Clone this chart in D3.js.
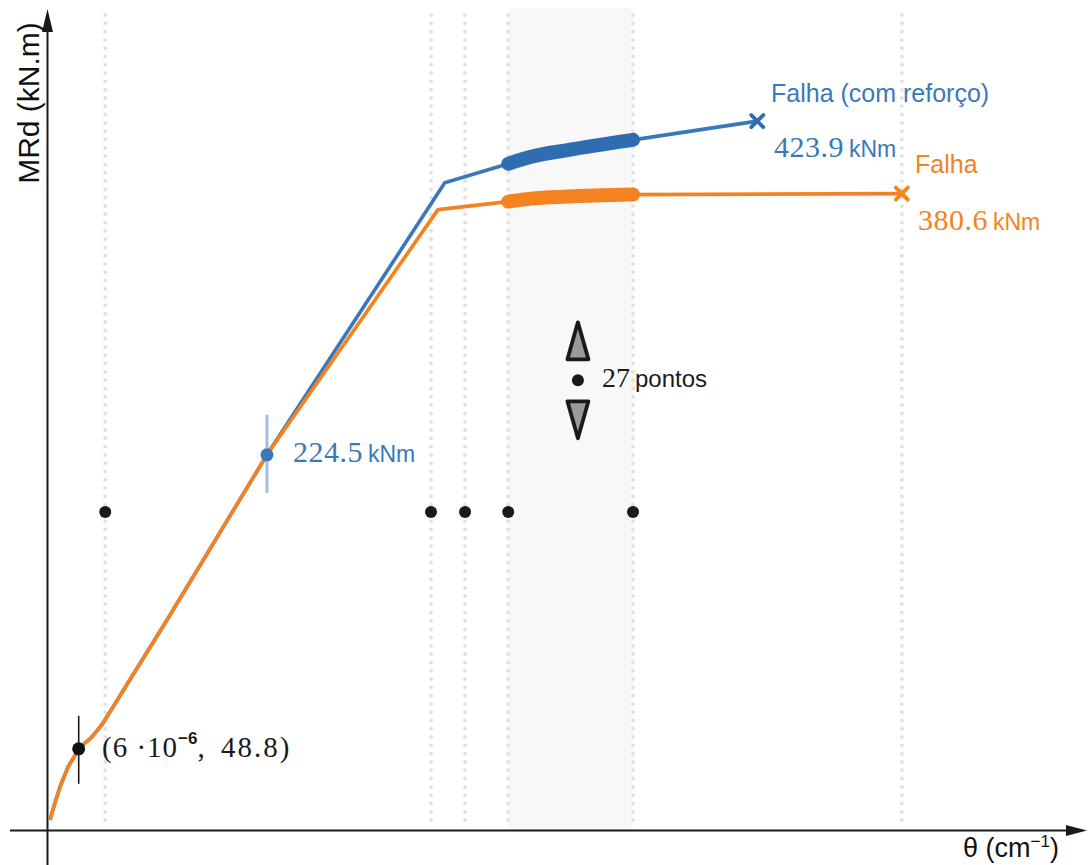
<!DOCTYPE html>
<html>
<head>
<meta charset="utf-8">
<script src="https://cdn.jsdelivr.net/npm/d3@7"></script>
<style>
  html, body { margin: 0; padding: 0; background: #fff; }
  svg { display: block; }
  .serif { font-family: 'Liberation Serif', 'Times New Roman', serif; }
  .sans { font-family: 'Liberation Sans', Arial, sans-serif; }
</style>
</head>
<body>
<svg id="chart" width="1088" height="865"></svg>
<script>
// ---------- data (θ in arbitrary units, MRd in kN.m) ----------
const curveCommon = [
  [0.48, 6.3], [1.25, 14.6], [2.4, 26.0], [3.94, 37.9], [5.1, 43.9], [6, 48.8],
  [7.0, 51.7], [8.17, 54.7], [9.52, 59.5], [10.67, 64.2], [12.0, 70.8],
  [22.98, 125.8], [42.2, 224.5]
];
const orangeTail = [[75.1, 371.0], [88.6, 375.8], [112.6, 380.0], [164.3, 380.6]];
const blueTail   = [[76.4, 387.1], [88.6, 398.4], [112.6, 412.7], [136.5, 423.9]];
const orangeThick = [[88.6, 375.8], [93, 377.6], [100, 378.8], [112.6, 380.0]];
const blueThick   = [[88.6, 398.4], [93, 402.6], [100, 406.6], [112.6, 412.7]];
const guideX = [11.1, 73.75, 80.3, 88.6, 112.6, 164.3];
const rowDotsX = [11.1, 73.75, 80.3, 88.6, 112.6];
const rowDotsY = 190.3;
const band = [88.6, 112.6];
const firstPoint = [6, 48.8];
const yieldPoint = [42.2, 224.5];
const failBlue = [136.5, 423.9];
const failOrange = [164.3, 380.6];
const legendPoint = [102, 269];
const labelsMRd = { yield: "224.5", blue: "423.9", orange: "380.6" };

const blueC = "#3a78bc", blueDark = "#2f6db2", orangeC = "#f58220", blueLight = "#9ebfe2";

// ---------- scales ----------
const svg = d3.select("#chart");
const x = d3.scaleLinear().domain([0, 200]).range([47.5, 1087.5]);
const y = d3.scaleLinear().domain([0, 490]).range([830.5, 10.5]);

// band
svg.append("rect")
  .attr("x", x(band[0])).attr("y", 8)
  .attr("width", x(band[1]) - x(band[0])).attr("height", y(0) - 8)
  .attr("fill", "#f8f8f8");

// dotted guides
svg.selectAll(".guide").data(guideX).enter().append("line")
  .attr("x1", d => x(d)).attr("x2", d => x(d))
  .attr("y1", 15).attr("y2", 828)
  .attr("stroke", "#e2e2e2").attr("stroke-width", 4)
  .attr("stroke-linecap", "round").attr("stroke-dasharray", "0 8.3");

// axes
const axisColor = "#1a1a1a";
svg.append("line").attr("x1", 10).attr("x2", 1070).attr("y1", y(0)).attr("y2", y(0))
  .attr("stroke", axisColor).attr("stroke-width", 2);
svg.append("path").attr("d", `M1087,${y(0)} L1066,${y(0) - 5.5} L1066,${y(0) + 5.5} Z`).attr("fill", axisColor);
svg.append("line").attr("x1", x(0)).attr("x2", x(0)).attr("y1", 865).attr("y2", 28)
  .attr("stroke", axisColor).attr("stroke-width", 2);
svg.append("path").attr("d", `M${x(0)},9 L${x(0) - 5.5},32 L${x(0) + 5.5},32 Z`).attr("fill", axisColor);

// axis labels
svg.append("text").attr("class", "sans").attr("transform", `translate(39,103) rotate(-90)`)
  .attr("text-anchor", "middle").attr("font-size", 30).attr("fill", "#111").text("MRd (kN.m)");
const xl = svg.append("text").attr("class", "sans").attr("x", 963).attr("y", 857)
  .attr("font-size", 27).attr("fill", "#111");
xl.append("tspan").text("θ (cm");
xl.append("tspan").attr("font-size", 17).attr("dy", -10).text("−1");
xl.append("tspan").attr("dy", 10).text(")");

// lines
const line = d3.line().x(d => x(d[0])).y(d => y(d[1]));
svg.append("path").datum(curveCommon.concat(blueTail)).attr("d", line)
  .attr("fill", "none").attr("stroke", blueC).attr("stroke-width", 3.6).attr("stroke-linejoin", "round");
svg.append("path").datum(curveCommon.concat(orangeTail)).attr("d", line)
  .attr("fill", "none").attr("stroke", orangeC).attr("stroke-width", 3.6).attr("stroke-linejoin", "round");

const smooth = d3.line().x(d => x(d[0])).y(d => y(d[1])).curve(d3.curveMonotoneX);
svg.append("path").datum(blueThick).attr("d", smooth)
  .attr("fill", "none").attr("stroke", blueDark).attr("stroke-width", 14).attr("stroke-linecap", "round");
svg.append("path").datum(orangeThick).attr("d", smooth)
  .attr("fill", "none").attr("stroke", orangeC).attr("stroke-width", 14).attr("stroke-linecap", "round");

// row dots
svg.selectAll(".rowdot").data(rowDotsX).enter().append("circle")
  .attr("cx", d => x(d)).attr("cy", y(rowDotsY)).attr("r", 6).attr("fill", "#1a1a1a");

// first point
svg.append("line").attr("x1", x(firstPoint[0])).attr("x2", x(firstPoint[0]))
  .attr("y1", y(firstPoint[1]) - 33).attr("y2", y(firstPoint[1]) + 35)
  .attr("stroke", "#1a1a1a").attr("stroke-width", 1.6);
svg.append("circle").attr("cx", x(firstPoint[0])).attr("cy", y(firstPoint[1])).attr("r", 6.5).attr("fill", "#111");
const fp = svg.append("text").attr("class", "serif").attr("x", 102).attr("y", 757)
  .attr("font-size", 29).attr("fill", "#1a1a1a");
fp.append("tspan").attr("letter-spacing", 1).text("(6 ·10");
fp.append("tspan").attr("class", "sans").attr("font-weight", "bold")
  .attr("font-size", 17).attr("dy", -13).text("−6");
fp.append("tspan").attr("dy", 13).text(", ");
fp.append("tspan").attr("dx", 9).attr("letter-spacing", 2).text(firstPoint[1].toFixed(1) + ")");

// yield point
svg.append("line").attr("x1", x(yieldPoint[0])).attr("x2", x(yieldPoint[0]))
  .attr("y1", y(yieldPoint[1]) - 40).attr("y2", y(yieldPoint[1]) + 38)
  .attr("stroke", blueLight).attr("stroke-width", 3);
svg.append("circle").attr("cx", x(yieldPoint[0])).attr("cy", y(yieldPoint[1])).attr("r", 6.5).attr("fill", blueC);

function valueLabel(px, py, num, color) {
  const t = svg.append("text").attr("x", px).attr("y", py).attr("fill", color);
  t.append("tspan").attr("class", "serif")
    .attr("font-size", 30).attr("letter-spacing", 0.5).text(num);
  t.append("tspan").attr("class", "sans").attr("dx", 5)
    .attr("font-size", 23).text("kNm");
}
valueLabel(293, 462, labelsMRd.yield, blueC);
valueLabel(774, 157, labelsMRd.blue, blueC);
valueLabel(918, 230, labelsMRd.orange, orangeC);

// failure markers
function cross(p, color) {
  const cx = x(p[0]), cy = y(p[1]), s = 6;
  svg.append("path").attr("d", `M${cx - s},${cy - s} L${cx + s},${cy + s} M${cx - s},${cy + s} L${cx + s},${cy - s}`)
    .attr("stroke", color).attr("stroke-width", 3.8).attr("stroke-linecap", "round");
}
cross(failBlue, blueDark);
cross(failOrange, orangeC);

svg.append("text").attr("class", "sans").attr("x", 771).attr("y", 102).attr("fill", blueC)
  .attr("font-size", 25).text("Falha (com reforço)");
svg.append("text").attr("class", "sans").attr("x", 915).attr("y", 173).attr("fill", orangeC)
  .attr("font-size", 25).text("Falha");

// 27 pontos legend
const lx = x(legendPoint[0]), ly = y(legendPoint[1]);
svg.append("path").attr("d", `M${lx},${ly - 58} L${lx - 10.5},${ly - 21} L${lx + 10.5},${ly - 21} Z`)
  .attr("fill", "#9a9a9a").attr("stroke", "#1a1a1a").attr("stroke-width", 3.8).attr("stroke-linejoin", "round");
svg.append("path").attr("d", `M${lx},${ly + 58} L${lx - 10.5},${ly + 21} L${lx + 10.5},${ly + 21} Z`)
  .attr("fill", "#9a9a9a").attr("stroke", "#1a1a1a").attr("stroke-width", 3.8).attr("stroke-linejoin", "round");
svg.append("circle").attr("cx", lx).attr("cy", ly).attr("r", 6).attr("fill", "#1a1a1a");
const lt = svg.append("text").attr("x", 602).attr("y", 387).attr("fill", "#1a1a1a");
lt.append("tspan").attr("class", "serif").attr("font-size", 28).text("27");
lt.append("tspan").attr("class", "sans").attr("dx", 5).attr("font-size", 24).text("pontos");
</script>
</body>
</html>
